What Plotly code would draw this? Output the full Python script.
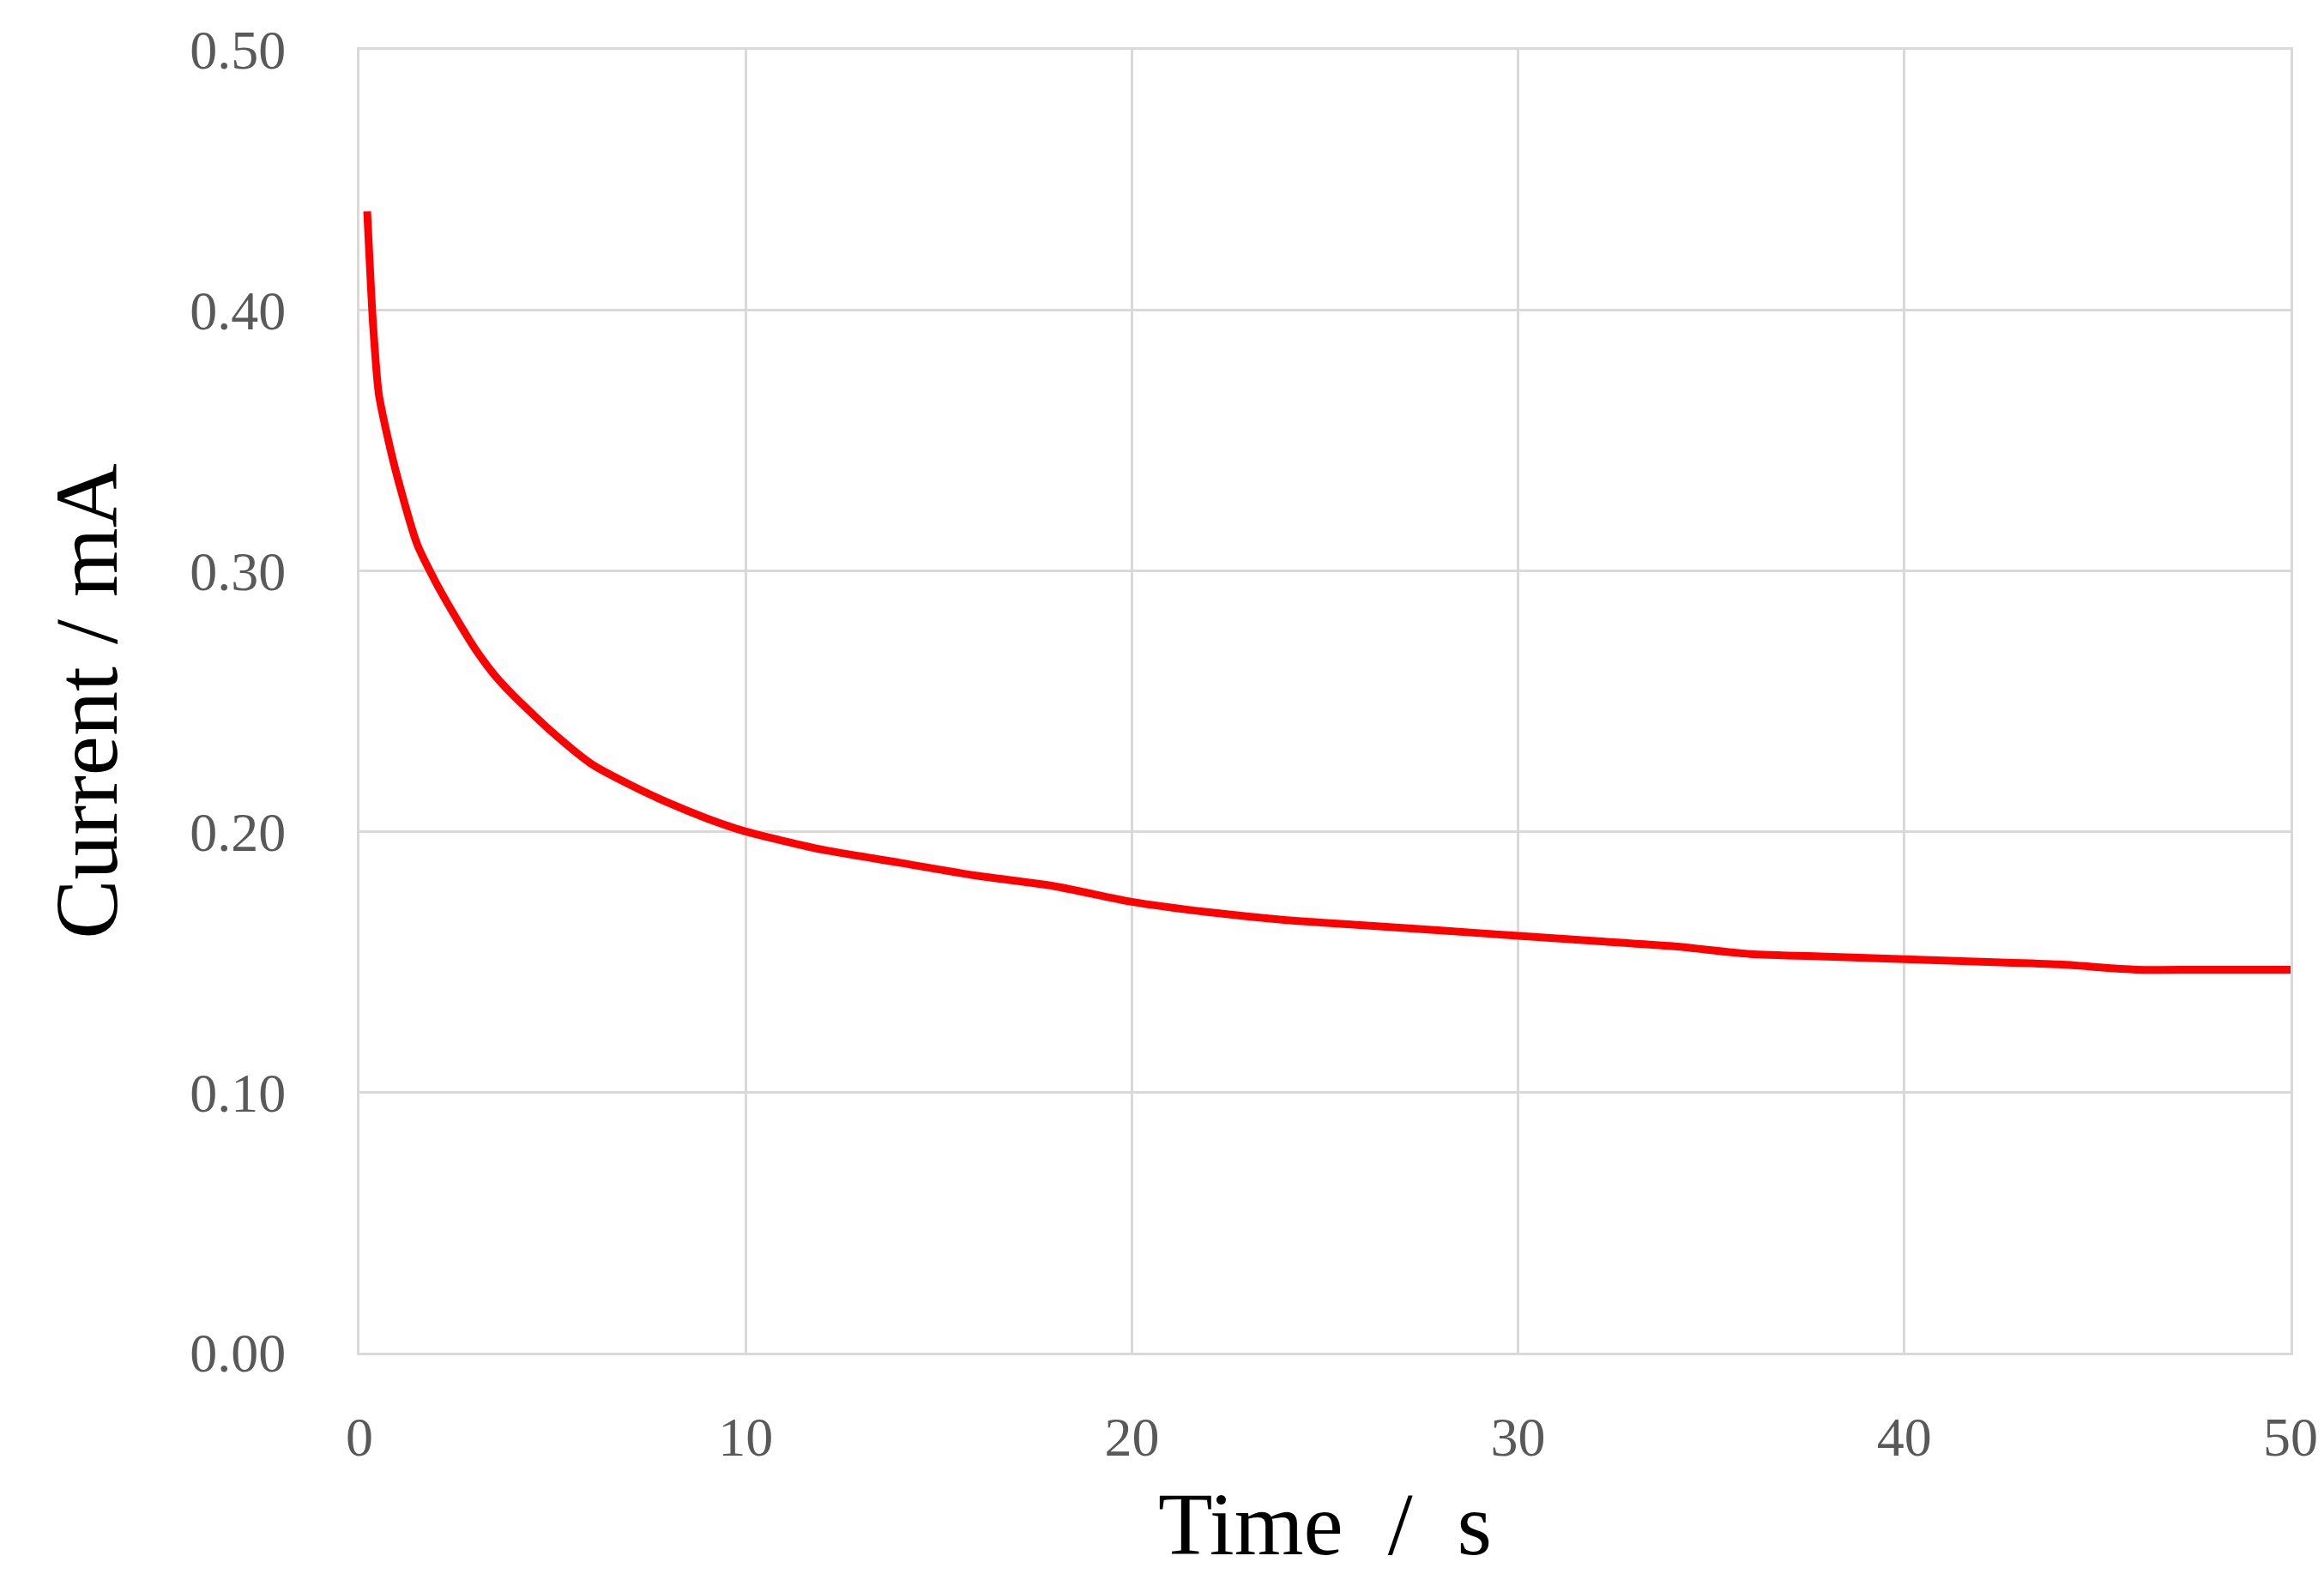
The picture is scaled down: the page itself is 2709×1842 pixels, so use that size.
import plotly.graph_objects as go

time_s = [0.2, 0.35, 0.5, 0.75, 1.0, 1.5, 2.0, 2.5, 3.0, 3.5, 4.0, 5.0, 6.0, 7.0, 8.0, 9.0, 10.0,
          12.0, 14.0, 16.0, 18.0, 20.0, 22.0, 24.0, 26.0, 28.0, 30.0, 32.0, 34.0, 36.0, 38.0,
          40.0, 42.0, 44.0, 46.0, 48.0, 50.0]
current_mA = [0.438, 0.395, 0.368, 0.350, 0.335, 0.310, 0.295, 0.282, 0.270, 0.260, 0.252, 0.238,
              0.226, 0.218, 0.211, 0.205, 0.200, 0.193, 0.188, 0.183, 0.179, 0.173, 0.169, 0.166,
              0.164, 0.162, 0.160, 0.158, 0.156, 0.153, 0.152, 0.151, 0.150, 0.149, 0.147, 0.147, 0.147]

x_ticks = [0, 10, 20, 30, 40, 50]
y_ticks = [0.0, 0.1, 0.2, 0.3, 0.4, 0.5]

fig = go.Figure(go.Scatter(x=time_s, y=current_mA, mode="lines",
                           line=dict(color="#ff0000", width=9, shape="spline", smoothing=0.6)))
font = "Liberation Serif, Times New Roman, serif"
fig.update_layout(
    width=2709, height=1842, plot_bgcolor="white", paper_bgcolor="white",
    margin=dict(l=411, r=47, t=50, b=273), showlegend=False,
    font=dict(family=font),
)
fig.update_xaxes(range=[0, 50], tickvals=x_ticks, showgrid=True, gridcolor="#d9d9d9", gridwidth=3,
                 showline=True, linecolor="#d9d9d9", linewidth=3, mirror=True, zeroline=False,
                 ticks="", ticklabelstandoff=40, tickfont=dict(size=64, color="#595959", family=font),
                 title=dict(text="Time  /  s", font=dict(size=104, color="black", family=font), standoff=30))
fig.update_yaxes(range=[0, 0.5], tickvals=y_ticks, tickformat=".2f", showgrid=True, gridcolor="#d9d9d9",
                 gridwidth=3, showline=True, linecolor="#d9d9d9", linewidth=3, mirror=True, zeroline=False,
                 ticks="", ticklabelstandoff=70, tickfont=dict(size=64, color="#595959", family=font),
                 title=dict(text="Current / mA", font=dict(size=104, color="black", family=font), standoff=50))
fig.write_html("out.html")
